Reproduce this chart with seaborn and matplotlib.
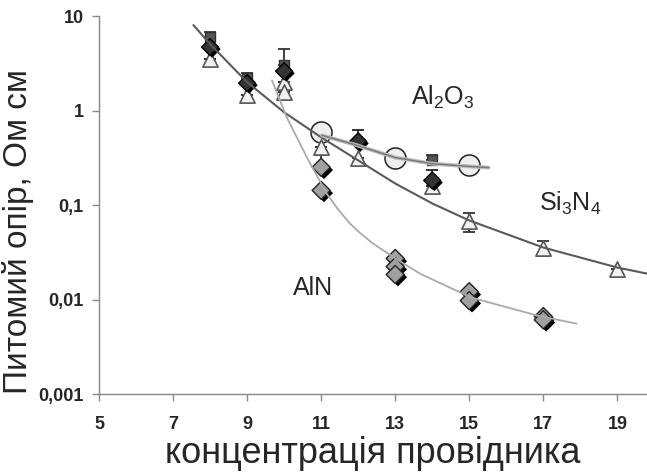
import numpy as np
import pandas as pd
import matplotlib
matplotlib.use('Agg')
import matplotlib.pyplot as plt
import matplotlib.patheffects as pe
import seaborn as sns

# dark squares (with upper error bars)
sq_x = [8, 9, 10, 14]
sq_y = [5.98, 2.20, 3.02, 0.297]
sq_err = [0.78, 0.29, 1.45, 0.043]

# dark diamonds
dk_x = [8, 9, 10, 12, 14]
dk_y = [4.69, 1.95, 2.61, 0.472, 0.182]
dk_err = [0, 0, 0, 0.146, 0.051]

# Si3N4 triangles
tri_x = [8, 9, 10, 10, 11, 12, 14, 15, 17, 19]
tri_y = [3.50, 1.45, 2.0, 1.56, 0.408, 0.312, 0.161, 0.067, 0.0355, 0.0213]
tri_err = [0, 0, 0, 0, 0, 0, 0, 0.015, 0.0065, 0]

# Al2O3 circles
circ_x = [11, 13, 15]
circ_y = [0.589, 0.312, 0.263]

# AlN diamonds
aln_x = [11, 11, 13, 13, 13, 15, 15, 17, 17]
aln_y = [0.251, 0.143, 0.0272, 0.0223, 0.0184, 0.0121, 0.00973, 0.0066, 0.0061]
aln_err = [0.085, 0, 0, 0, 0, 0, 0, 0, 0]

# trend lines
si_fit_x = [7.55, 8, 9, 10, 11, 12, 13, 14, 15, 17, 19, 19.8]
si_fit_y = [8.03, 5.05, 2.0, 0.959, 0.521, 0.297, 0.169, 0.104, 0.0687, 0.0355, 0.0218, 0.0188]
aln_fit_x = [9.67, 10.07, 10.61, 11.15, 11.46, 11.78, 12.1, 12.41, 12.95, 13.68, 15.05, 16.85, 17.9]
aln_fit_y = [2.09, 0.849, 0.322, 0.132, 0.0898, 0.0634, 0.0488, 0.0389, 0.0281, 0.0187, 0.0105,
             0.00675, 0.00555]
al_fit_x = [11.02, 11.97, 13.0, 14.0, 15.0, 15.52]
al_fit_y = [0.547, 0.4285, 0.318, 0.274, 0.2564, 0.249]

y_ticks = [0.001, 0.01, 0.1, 1, 10]
y_tick_labels = ['0,001', '0,01', '0,1', '1', '10']
x_ticks = [5, 7, 9, 11, 13, 15, 17, 19]

sns.set_style('ticks')
plt.rcParams['font.family'] = ['Liberation Sans', 'DejaVu Sans']
plt.rcParams['mathtext.fontset'] = 'custom'
plt.rcParams['mathtext.rm'] = 'Liberation Sans'

fig = plt.figure(figsize=(6.47, 4.73), dpi=100)
ax = fig.add_axes([0.153, 0.167, 0.847, 0.799])
ax.set_yscale('log')

# error bars first
ax.errorbar(sq_x, sq_y, yerr=[np.zeros(len(sq_err)), sq_err], fmt='none',
            ecolor='#333333', elinewidth=1.3, capsize=4, capthick=1.3, zorder=2)
ax.errorbar(dk_x, dk_y, yerr=[np.zeros(len(dk_err)), dk_err], fmt='none',
            ecolor='#222222', elinewidth=1.3, capsize=4, capthick=1.3, zorder=2)
ax.errorbar(tri_x, tri_y, yerr=tri_err, fmt='none',
            ecolor='#333333', elinewidth=1.3, capsize=4, capthick=1.3, zorder=2)
ax.errorbar(aln_x, aln_y, yerr=[np.zeros(len(aln_err)), aln_err], fmt='none',
            ecolor='#333333', elinewidth=1.3, capsize=4, capthick=1.3, zorder=2)

sns.scatterplot(x=sq_x, y=sq_y, marker='s', s=55, color='#555555',
                edgecolor='#333333', linewidth=1, ax=ax, zorder=3)
sns.scatterplot(x=circ_x, y=circ_y, marker='o', s=230, color='#eeeeee',
                edgecolor='#222222', linewidth=1.1, ax=ax, zorder=3)
sns.scatterplot(x=tri_x, y=tri_y, marker='^', s=120, color='#f2f2f2',
                edgecolor='#555555', linewidth=1.2, ax=ax, zorder=4)
sns.scatterplot(x=dk_x, y=dk_y, marker='D', s=75, color='#333333',
                edgecolor='#000000', linewidth=1, ax=ax, zorder=5,
                path_effects=[pe.SimplePatchShadow(offset=(1.5, -1.5), shadow_rgbFace='k', alpha=1),
                              pe.Normal()])
sns.scatterplot(x=aln_x, y=aln_y, marker='D', s=85, color='#a0a0a0',
                edgecolor='#222222', linewidth=1, ax=ax, zorder=5,
                path_effects=[pe.SimplePatchShadow(offset=(2, -2), shadow_rgbFace='k', alpha=1),
                              pe.Normal()])

# trend lines
sns.lineplot(x=si_fit_x, y=si_fit_y, color='#5a5a5a', linewidth=1.5, sort=False,
             estimator=None, ax=ax, zorder=6)
sns.lineplot(x=aln_fit_x, y=aln_fit_y, color='#aaaaaa', linewidth=1.3, sort=False,
             estimator=None, ax=ax, zorder=6)
sns.lineplot(x=al_fit_x, y=al_fit_y, color='#bbbbbb', linewidth=2.8, sort=False,
             estimator=None, ax=ax, zorder=6)
sns.lineplot(x=al_fit_x, y=al_fit_y, color='#777777', linewidth=1.0, sort=False,
             estimator=None, ax=ax, zorder=6)

ax.text(14.27, 1.38, 'Al$_\\mathregular{2}$O$_\\mathregular{3}$', fontsize=18,
        ha='center', va='center')
ax.text(17.73, 0.104, 'Si$_\\mathregular{3}$N$_\\mathregular{4}$', fontsize=18,
        ha='center', va='center')
ax.text(10.78, 0.0131, 'AlN', fontsize=18, ha='center', va='center')

ax.set_xlim(5, 19.8)
ax.set_ylim(0.001, 10)
ax.set_xticks(x_ticks)
ax.set_xticklabels([str(v) for v in x_ticks])
ax.set_yticks(y_ticks)
ax.set_yticklabels(y_tick_labels)
ax.yaxis.set_minor_locator(matplotlib.ticker.NullLocator())
ax.tick_params(axis='both', which='major', length=5, width=1, color='#888888',
               labelsize=13)
ax.tick_params(axis='x', pad=11)
ax.tick_params(axis='y', pad=6)
for lab in ax.get_xticklabels() + ax.get_yticklabels():
    lab.set_fontweight('bold')

for side in ['top', 'right']:
    ax.spines[side].set_visible(False)
for side in ['left', 'bottom']:
    ax.spines[side].set_color('#888888')
    ax.spines[side].set_linewidth(1)

ax.set_xlabel('концентрація провідника', fontsize=26, labelpad=2)
ax.set_ylabel('Питомий опір, Ом см', fontsize=24)
ax.yaxis.set_label_coords(-0.118, 0.43)

fig.savefig('out.png', dpi=100)
